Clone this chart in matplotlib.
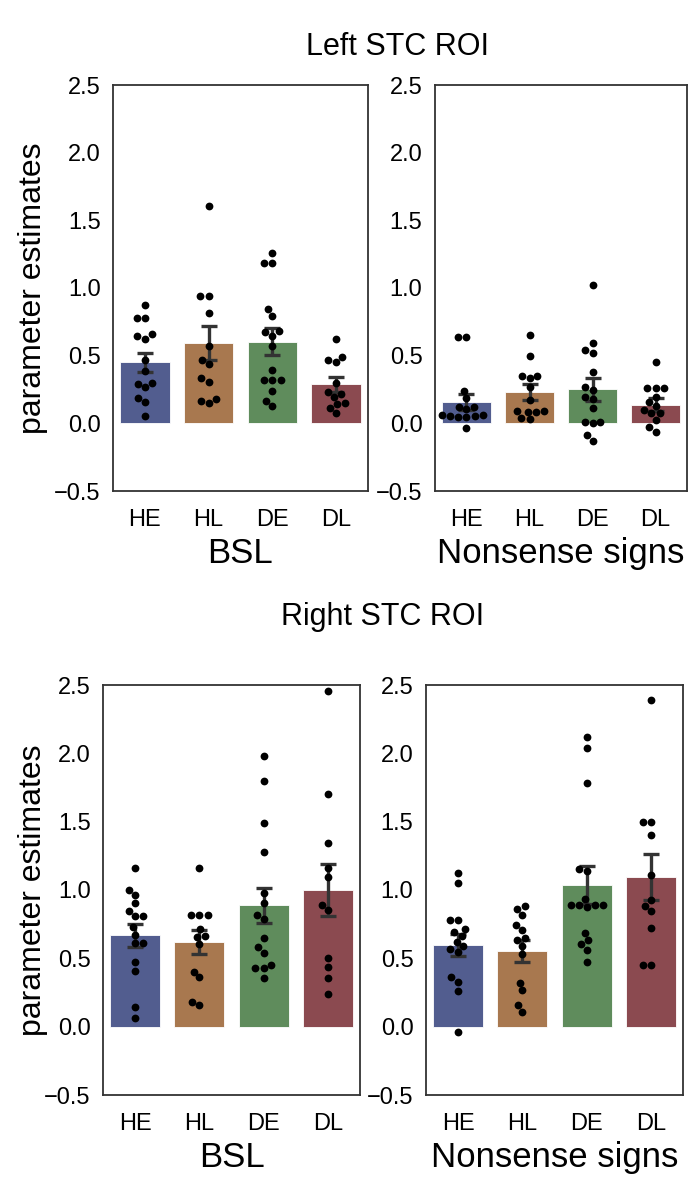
import numpy as np
import matplotlib
matplotlib.use("Agg")
import matplotlib.pyplot as plt
import seaborn as sns

sns.set_style("white")
plt.rcParams['font.family'] = ['Liberation Sans', 'DejaVu Sans']
plt.rcParams['text.color'] = 'black'
plt.rcParams['axes.labelcolor'] = 'black'

groups = ['HE', 'HL', 'DE', 'DL']
colors = ['#525d8f', '#a8784f', '#5f8c5c', '#8b4a50']

# Left STC ROI, BSL
left_bsl_mean = [0.451, 0.591, 0.603, 0.288]
left_bsl_se = [0.071, 0.125, 0.098, 0.057]
left_bsl_dots = [
    [0.874, 0.776, 0.776, 0.658, 0.648, 0.626, 0.470, 0.387, 0.296, 0.291, 0.266, 0.185, 0.160, 0.057],
    [1.606, 0.941, 0.941, 0.815, 0.574, 0.468, 0.438, 0.333, 0.308, 0.177, 0.165, 0.148],
    [1.261, 1.187, 1.187, 0.842, 0.793, 0.680, 0.675, 0.648, 0.571, 0.397, 0.320, 0.320, 0.320, 0.241, 0.167, 0.128],
    [0.626, 0.488, 0.468, 0.451, 0.300, 0.234, 0.220, 0.197, 0.153, 0.143, 0.111, 0.074],
]

# Left STC ROI, Nonsense signs
left_non_mean = [0.155, 0.229, 0.251, 0.138]
left_non_se = [0.060, 0.058, 0.085, 0.050]
left_non_dots = [
    [0.640, 0.635, 0.239, 0.185, 0.123, 0.123, 0.103, 0.060, 0.055, 0.045, 0.045, 0.055, 0.060, -0.037],
    [0.653, 0.500, 0.352, 0.352, 0.333, 0.270, 0.172, 0.090, 0.086, 0.086, 0.090, 0.030, 0.040],
    [1.022, 0.596, 0.542, 0.522, 0.382, 0.271, 0.246, 0.197, 0.177, 0.116, 0.012, 0.012, 0.000, -0.086, -0.128],
    [0.453, 0.259, 0.259, 0.259, 0.197, 0.160, 0.128, 0.100, 0.074, 0.074, 0.025, -0.025, -0.062],
]

# Right STC ROI, BSL
right_bsl_mean = [0.668, 0.620, 0.888, 0.998]
right_bsl_se = [0.082, 0.086, 0.130, 0.190]
right_bsl_dots = [
    [1.159, 1.000, 0.961, 0.902, 0.846, 0.807, 0.807, 0.727, 0.673, 0.615, 0.615, 0.476, 0.405, 0.141, 0.061],
    [1.163, 0.817, 0.817, 0.817, 0.712, 0.659, 0.660, 0.605, 0.402, 0.361, 0.183, 0.159],
    [1.978, 1.795, 1.488, 1.280, 0.976, 0.902, 0.817, 0.785, 0.646, 0.585, 0.541, 0.451, 0.427, 0.427, 0.359],
    [2.459, 1.702, 1.341, 1.159, 1.098, 0.890, 0.854, 0.500, 0.439, 0.359, 0.239],
]

# Right STC ROI, Nonsense signs
right_non_mean = [0.596, 0.554, 1.036, 1.094]
right_non_se = [0.082, 0.080, 0.141, 0.170]
right_non_dots = [
    [1.126, 1.053, 0.778, 0.778, 0.717, 0.690, 0.664, 0.620, 0.590, 0.565, 0.547, 0.360, 0.330, 0.263, -0.036],
    [0.883, 0.863, 0.820, 0.744, 0.708, 0.652, 0.635, 0.590, 0.530, 0.323, 0.268, 0.158, 0.109],
    [2.120, 2.037, 1.781, 1.153, 1.140, 0.933, 0.892, 0.892, 0.892, 0.892, 0.877, 0.685, 0.634, 0.604, 0.560, 0.470],
    [2.390, 1.494, 1.494, 1.404, 1.109, 0.926, 0.884, 0.843, 0.721, 0.453, 0.453],
]

yticks = [-0.5, 0.0, 0.5, 1.0, 1.5, 2.0, 2.5]


def draw_panel(ax, means, se, dots, xlabel, ylabel=None, ylab_x=-0.25):
    x = np.arange(len(groups))
    ax.bar(x, means, width=0.78, color=colors, edgecolor='white', linewidth=0.6, zorder=1)
    ax.errorbar(x, means, yerr=se, fmt='none', ecolor='#333333',
                elinewidth=2.4, capsize=6, capthick=2.4, zorder=2)
    xs = []
    ys = []
    for g, vals in zip(groups, dots):
        xs += [g] * len(vals)
        ys += vals
    sns.swarmplot(x=xs, y=ys, order=groups, color='black', size=5.6, ax=ax, zorder=3)
    ax.set_xlim(-0.5, 3.5)
    ax.set_ylim(-0.5, 2.5)
    ax.set_yticks(yticks)
    ax.set_yticklabels(['\u22120.5', '0.0', '0.5', '1.0', '1.5', '2.0', '2.5'])
    ax.set_xticks(x)
    ax.set_xticklabels(groups)
    ax.tick_params(axis='both', length=0, labelsize=17, colors='black')
    ax.tick_params(axis='x', pad=13)
    ax.tick_params(axis='y', pad=9)
    ax.set_xlabel(xlabel, fontsize=25, labelpad=4)
    if ylabel:
        ax.set_ylabel(ylabel, fontsize=23)
        ax.yaxis.set_label_coords(ylab_x, 0.5)
    else:
        ax.set_ylabel('')
    for sp in ax.spines.values():
        sp.set_color('#333333')
        sp.set_linewidth(1.3)
        sp.set_visible(True)


W, H = 693, 1178
fig = plt.figure(figsize=(W / 100, H / 100), dpi=100)


def add_ax(x0, y0, x1, y1):
    return fig.add_axes([x0 / W, 1 - y1 / H, (x1 - x0) / W, (y1 - y0) / H])


ax1 = add_ax(113, 85, 368, 491)
ax2 = add_ax(435, 85, 687, 491)
ax3 = add_ax(103, 685, 360, 1095)
ax4 = add_ax(426, 685, 683, 1095)

draw_panel(ax1, left_bsl_mean, left_bsl_se, left_bsl_dots, 'BSL', 'parameter estimates', -0.255)
draw_panel(ax2, left_non_mean, left_non_se, left_non_dots, 'Nonsense signs')
draw_panel(ax3, right_bsl_mean, right_bsl_se, right_bsl_dots, 'BSL', 'parameter estimates', -0.215)
draw_panel(ax4, right_non_mean, right_non_se, right_non_dots, 'Nonsense signs')

fig.text(398 / W, 1 - 47 / H, 'Left STC ROI', ha='center', va='center', fontsize=22)
fig.text(383 / W, 1 - 617 / H, 'Right STC ROI', ha='center', va='center', fontsize=22)

fig.savefig('out.png', dpi=100)
